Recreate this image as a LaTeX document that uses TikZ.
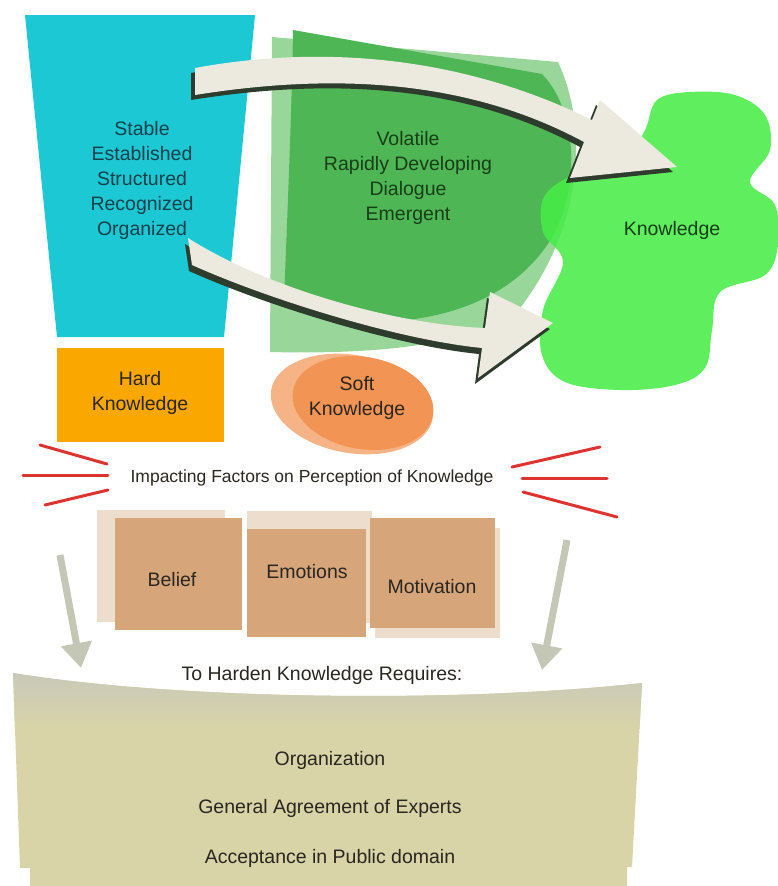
\documentclass[tikz,border=0pt]{standalone}
\usepackage{fontspec}
\setmainfont{Liberation Sans}
\usetikzlibrary{arrows.meta,positioning}
\definecolor{hardcyan}{RGB}{28,200,212}
\definecolor{shieldgreen}{RGB}{78,182,84}
\definecolor{shieldlight}{RGB}{128,204,128}
\definecolor{blobgreen}{RGB}{70,236,70}
\definecolor{arrowcream}{RGB}{236,233,222}
\definecolor{arrowshade}{RGB}{45,60,45}
\definecolor{hardorange}{RGB}{250,168,0}
\definecolor{softouter}{RGB}{246,180,134}
\definecolor{softinner}{RGB}{241,148,84}
\definecolor{factorred}{RGB}{222,52,48}
\definecolor{boxbrown}{RGB}{214,166,122}
\definecolor{boxshade}{RGB}{236,221,205}
\definecolor{downgray}{RGB}{196,199,182}
\definecolor{bannerfill}{RGB}{216,212,168}
\definecolor{bannertop}{RGB}{200,200,186}
\definecolor{cyantext}{RGB}{22,64,74}
\definecolor{greentext}{RGB}{24,62,24}
\definecolor{darktext}{RGB}{42,38,32}
\tikzset{
  word/.style={font=\fontsize{19.5}{25}\selectfont, align=center, text=#1, inner sep=0pt},
  word/.default=darktext,
  factorbox/.style={fill=boxbrown, minimum width=#1, inner sep=0pt},
  shadebox/.style={fill=boxshade, inner sep=0pt},
  factorline/.style={factorred, line width=3pt, line cap=round},
  downarrow/.style={downgray, line width=7pt, -{Triangle[width=30pt,length=25pt]}}
}
\begin{document}
\begin{tikzpicture}[x=1pt,y=-1pt]
    \useasboundingbox (0,0) rectangle (778,886);
    \fill[hardcyan] (25,15) -- (255,15) -- (224,337) -- (57,337) -- cycle;
    \fill[shieldlight, opacity=.8] (272,37) -- (558,62) .. controls (590,130) and (582,235) .. (512,318) .. controls (450,350) and (350,354) .. (270,352) -- cycle;
    \fill[shieldgreen] (293,30) -- (542,74) .. controls (582,115) and (580,205) .. (542,252) .. controls (505,300) and (440,324) .. (360,322) .. controls (320,320) and (296,312) .. (284,300) .. controls (288,200) and (292,100) .. (293,30) -- cycle;
    \fill[blobgreen, opacity=.87] plot[smooth cycle, tension=.6] coordinates {(657,100) (690,92) (735,95) (765,115) (770,150) (750,182) (775,205) (778,245) (765,275) (720,292) (712,330) (705,368) (675,385) (620,390) (565,382) (542,355) (543,310) (563,262) (543,232) (545,195) (580,172) (625,160) (645,130)};
    \fill[arrowshade, shift={(-4,5)}] (195,68) .. controls (320,45) and (460,55) .. (592,120) -- (600,100) -- (677,167) -- (570,178) -- (584,142) .. controls (460,75) and (320,75) .. (195,95) -- cycle;
    \fill[arrowcream] (195,68) .. controls (320,45) and (460,55) .. (592,120) -- (600,100) -- (677,167) -- (570,178) -- (584,142) .. controls (460,75) and (320,75) .. (195,95) -- cycle;
    \fill[arrowshade, shift={(-3,6)}] (188,238) .. controls (270,290) and (400,325) .. (485,328) -- (490,292) -- (553,323) -- (478,378) -- (482,348) .. controls (400,340) and (270,300) .. (192,265) -- cycle;
    \fill[arrowcream] (188,238) .. controls (270,290) and (400,325) .. (485,328) -- (490,292) -- (553,323) -- (478,378) -- (482,348) .. controls (400,340) and (270,300) .. (192,265) -- cycle;
    \node[word=cyantext] (hardlist) at (142,180) {Stable\\Established\\Structured\\Recognized\\Organized};
    \node[word=greentext] (softlist) at (408,178) {Volatile\\Rapidly Developing\\Dialogue\\Emergent};
    \node[word=greentext] (knowledge) at (672,230) {Knowledge};
    \fill[hardorange] (57,348) rectangle (224,442);
    \node[word] (hard) at (140,393) {Hard\\Knowledge};
    \fill[softouter, rotate around={-10:(352,404)}] (352,404) ellipse [x radius=82, y radius=49];
    \fill[softinner, rotate around={-10:(363,403)}] (363,403) ellipse [x radius=71, y radius=46];
    \node[word] (soft) at (357,398) {Soft\\Knowledge};
    \node[word, font=\fontsize{17.5}{20}\selectfont] (impact) at (312,478) {Impacting Factors on Perception of Knowledge};
    \draw[factorline] (40,445) -- (107,464);
    \draw[factorline] (23,475) -- (108,475);
    \draw[factorline] (45,505) -- (108,490);
    \draw[factorline] (512,467) -- (600,447);
    \draw[factorline] (522,478) -- (607,478);
    \draw[factorline] (523,492) -- (617,517);
    \node[shadebox, minimum width=128pt, minimum height=112pt] (beliefshade) at (161,566) {};
    \node[shadebox, minimum width=125pt, minimum height=112pt] (emotionshade) at (309.5,567) {};
    \node[shadebox, minimum width=125pt, minimum height=110pt] (motivationshade) at (437.5,583) {};
    \node[factorbox=127pt, minimum height=112pt] (beliefbox) at (178.5,574) {};
    \node[factorbox=119pt, minimum height=108pt] (emotionbox) at (306.5,583) {};
    \node[factorbox=125pt, minimum height=110pt] (motivationbox) at (432.5,573) {};
    \node[word] (belief) at (172,580) {Belief};
    \node[word] (emotions) at (307,572) {Emotions};
    \node[word] (motivation) at (432,587) {Motivation};
    \coordinate (lefttail) at (60,555);
    \coordinate (lefthead) at (81,668);
    \coordinate (righttail) at (567,540);
    \coordinate (righthead) at (542,670);
    \draw[downarrow] (lefttail) -- (lefthead);
    \draw[downarrow] (righttail) -- (righthead);
    \fill[bannerfill] (13,673) .. controls (180,700) and (460,703) .. (642,683) -- (632,867) -- (627,867) -- (627,886) -- (30,886) -- (30,868) -- (20,868) -- cycle;
    \begin{scope}
      \clip (13,673) .. controls (180,700) and (460,703) .. (642,683) -- (632,867) -- (20,868) -- cycle;
      \shade[top color=bannertop, bottom color=bannerfill] (0,670) rectangle (660,728);
    \end{scope}
    \node[word] (harden) at (322,675) {To Harden Knowledge Requires:};
    \node[word] (organization) at (330,760) {Organization};
    \node[word] (agreement) at (330,808) {General Agreement of Experts};
    \node[word] (acceptance) at (330,858) {Acceptance in Public domain};
\end{tikzpicture}
\end{document}
